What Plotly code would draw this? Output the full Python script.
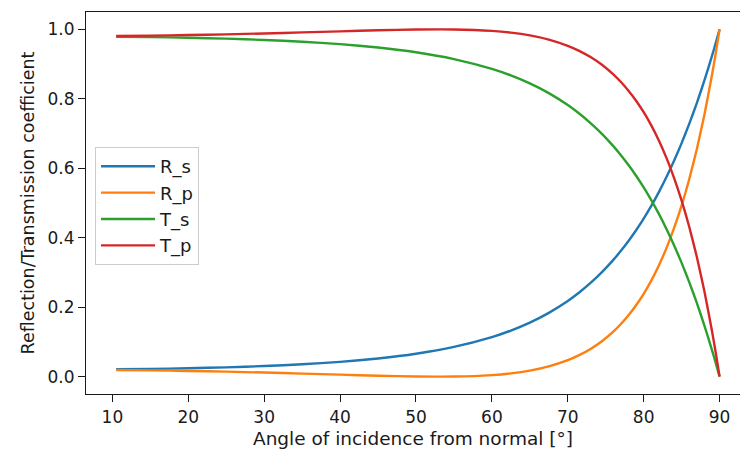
import plotly.graph_objects as go

# Angle of incidence (degrees) and Fresnel power coefficients, air -> water
angle = [10.5, 15, 20, 25, 30, 35, 40, 45, 50, 55, 60, 62.5, 65, 67.5, 70,
         71.5, 73, 74.5, 76, 77, 78, 79, 80, 81, 82, 83, 84, 85, 86, 87, 88,
         89, 89.5, 90]
R_s = [0.0211, 0.0223, 0.0241, 0.0268, 0.0305, 0.0356, 0.0426, 0.0523,
       0.0660, 0.0856, 0.1139, 0.1327, 0.1557, 0.1837, 0.2180, 0.2423,
       0.2698, 0.3009, 0.3362, 0.3623, 0.3907, 0.4216, 0.4552, 0.4917,
       0.5314, 0.5746, 0.6215, 0.6724, 0.7277, 0.7877, 0.8529, 0.9235,
       0.9610, 1.0]
R_p = [0.0190, 0.0180, 0.0164, 0.0143, 0.0117, 0.0088, 0.0057, 0.0027,
       0.0005, 0.0003, 0.0044, 0.0093, 0.0172, 0.0293, 0.0473, 0.0618,
       0.0798, 0.1021, 0.1297, 0.1516, 0.1767, 0.2055, 0.2386, 0.2766,
       0.3202, 0.3701, 0.4274, 0.4931, 0.5685, 0.6550, 0.7544, 0.8686,
       0.9320, 1.0]
T_s = [0.9789, 0.9777, 0.9759, 0.9732, 0.9695, 0.9644, 0.9574, 0.9477,
       0.9340, 0.9144, 0.8861, 0.8673, 0.8443, 0.8163, 0.7820, 0.7577,
       0.7302, 0.6991, 0.6638, 0.6377, 0.6093, 0.5784, 0.5448, 0.5083,
       0.4686, 0.4254, 0.3785, 0.3276, 0.2723, 0.2123, 0.1471, 0.0765,
       0.0390, 0.0]
T_p = [0.9810, 0.9820, 0.9836, 0.9857, 0.9883, 0.9912, 0.9943, 0.9973,
       0.9995, 0.9997, 0.9956, 0.9907, 0.9828, 0.9707, 0.9527, 0.9382,
       0.9202, 0.8979, 0.8703, 0.8484, 0.8233, 0.7945, 0.7614, 0.7234,
       0.6798, 0.6299, 0.5726, 0.5069, 0.4315, 0.3450, 0.2456, 0.1314,
       0.0680, 0.0]

series = [("R_s", R_s, "#1f77b4"), ("R_p", R_p, "#ff7f0e"),
          ("T_s", T_s, "#2ca02c"), ("T_p", T_p, "#d62728")]

FONT = "DejaVu Sans"
INK = "#1a1a1a"

fig = go.Figure()
for name, vals, color in series:
    fig.add_trace(go.Scatter(
        x=angle, y=vals, name=name, mode="lines",
        line=dict(color=color, width=2.4, shape="spline", smoothing=0.5),
    ))

axis_common = dict(
    showgrid=False, zeroline=False, showline=True, linecolor=INK,
    linewidth=1.2, ticks="outside", ticklen=7, tickwidth=1.2, tickcolor=INK,
    tickfont=dict(family=FONT, size=17, color=INK),
)

fig.update_layout(
    width=740, height=449,
    margin=dict(l=86, r=0, t=12, b=55),
    plot_bgcolor="white", paper_bgcolor="white",
    font=dict(family=FONT, size=17, color=INK),
    xaxis=dict(range=[6.525, 92.69], tickvals=[10, 20, 30, 40, 50, 60, 70, 80, 90],
               mirror=True,
               title=dict(text="Angle of incidence from normal [°]",
                          font=dict(family=FONT, size=18.5, color=INK), standoff=6),
               **axis_common),
    yaxis=dict(range=[-0.05, 1.05], tickvals=[0, 0.2, 0.4, 0.6, 0.8, 1.0],
               tickformat=".1f", mirror=False,
               title=dict(text="Reflection/Transmission coefficient",
                          font=dict(family=FONT, size=17.5, color=INK), standoff=8),
               **axis_common),
    legend=dict(x=0.0138, y=0.6466, xanchor="left", yanchor="top",
                bordercolor="#cccccc", borderwidth=1,
                bgcolor="rgba(255,255,255,0.8)", itemwidth=54,
                font=dict(family=FONT, size=18, color=INK)),
    showlegend=True,
)

fig.write_html("out.html")
